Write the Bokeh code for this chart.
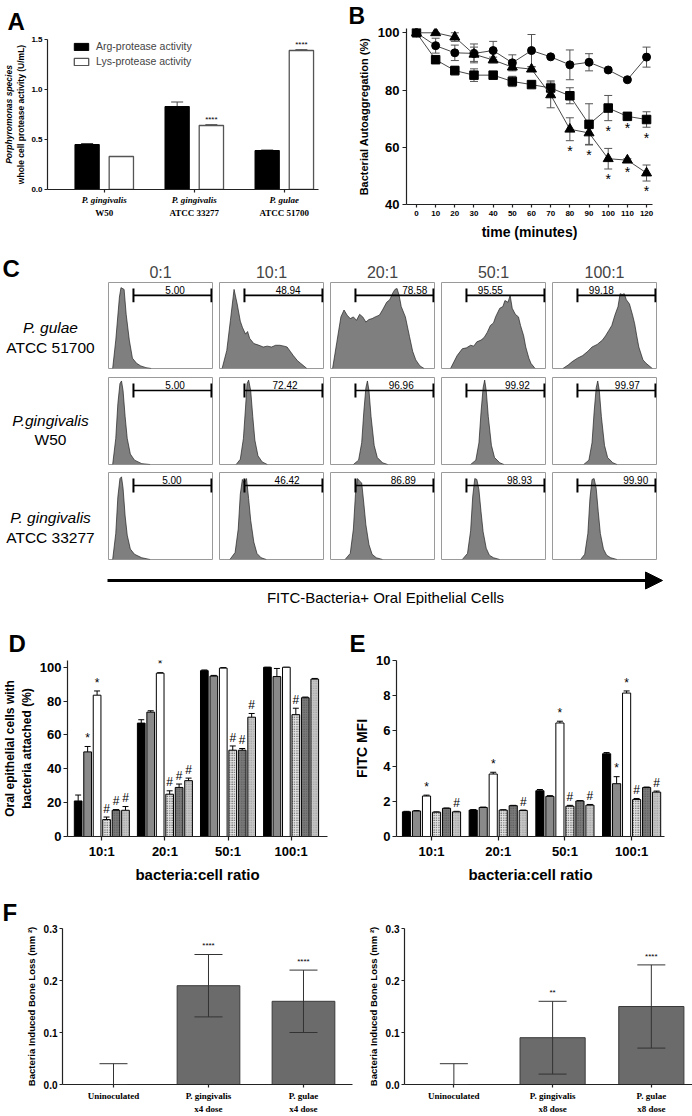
from bokeh.plotting import figure
from bokeh.layouts import row, column
from bokeh.models import (Range1d, Whisker, TeeHead, ColumnDataSource,
                          Legend, LegendItem, LinearAxis, FixedTicker, Arrow,
                          NormalHead, NumeralTickFormatter)
from bokeh.core.properties import value
from bokeh.embed import file_html
from bokeh.resources import INLINE

SANS = "Liberation Sans"
SERIF = "Liberation Serif"
INK = "#222222"

# ---------------- Panel A data ----------------
a_species = ["P. gingivalis", "P. gingivalis", "P. gulae"]
a_strain = ["W50", "ATCC 33277", "ATCC 51700"]
a_series = ["Arg-protease activity", "Lys-protease activity"]
a_arg = [0.45, 0.83, 0.39]
a_arg_err = [0.01, 0.045, 0.005]
a_lys = [0.33, 0.64, 1.39]
a_lys_err = [0.0, 0.008, 0.008]
a_lys_sig = ["", "****", "****"]
a_yticks = [0.0, 0.5, 1.0, 1.5]

# ---------------- Panel B data ----------------
b_time = [0, 10, 20, 30, 40, 50, 60, 70, 80, 90, 100, 110, 120]
b_circle = [100, 95.5, 93.0, 92.8, 93.8, 89.5, 93.8, 91.6, 88.8, 89.7, 87.0, 83.6, 91.5]
b_circle_err = [0, 2.6, 2.7, 3.3, 3.2, 2.8, 5.6, 0.4, 5.2, 3.0, 0.4, 0.4, 3.5]
b_circle_sig = [""] * 13
b_triangle = [100, 100, 98.5, 92.5, 90.5, 88.0, 87.3, 78.3, 66.3, 65.0, 56.0, 55.5, 51.0]
b_triangle_err = [0, 0, 1.5, 2.5, 1.0, 0.8, 0.8, 4.5, 4.0, 4.0, 3.6, 0.5, 2.8]
b_triangle_sig = ["", "", "", "", "", "", "", "", "*", "*", "*", "*", "*"]
b_square = [100, 90.6, 86.8, 85.2, 85.2, 83.0, 81.9, 80.7, 78.0, 68.0, 73.7, 70.8, 69.7]
b_square_err = [0, 0.5, 1.5, 2.2, 1.2, 1.8, 0.5, 2.5, 2.8, 7.2, 4.4, 0.5, 2.7]
b_square_sig = ["", "", "", "", "", "", "", "", "", "", "*", "*", "*"]
b_yticks = [40, 60, 80, 100]

# ---------------- Panel C data ----------------
c_ratios = ["0:1", "10:1", "20:1", "50:1", "100:1"]
c_row_species = ["P. gulae", "P.gingivalis", "P. gingivalis"]
c_row_strain = ["ATCC 51700", "W50", "ATCC 33277"]
c_gulae_pct = ["5.00", "48.94", "78.58", "95.55", "99.18"]
c_w50_pct = ["5.00", "72.42", "96.96", "99.92", "99.97"]
c_33277_pct = ["5.00", "46.42", "86.89", "98.93", "99.90"]
c_gulae_lblx = [0.64, 0.66, 0.81, 0.47, 0.47]
c_w50_lblx = [0.64, 0.63, 0.68, 0.73, 0.72]
c_33277_lblx = [0.61, 0.65, 0.70, 0.75, 0.80]

c_gulae_x = [
    [0.04, 0.07, 0.105, 0.12, 0.15, 0.17, 0.2, 0.23, 0.27, 0.31, 0.36, 0.41],
    [0.025, 0.07, 0.105, 0.14, 0.17, 0.2, 0.22, 0.25, 0.27, 0.29, 0.33, 0.38, 0.42,
     0.46, 0.5, 0.54, 0.58, 0.62, 0.65, 0.68, 0.71, 0.75, 0.78, 0.84],
    [0.02, 0.06, 0.1, 0.13, 0.16, 0.19, 0.22, 0.25, 0.28, 0.31, 0.34, 0.37, 0.4, 0.43,
     0.47, 0.5, 0.54, 0.57, 0.6, 0.62, 0.64, 0.66, 0.68, 0.72, 0.76, 0.79, 0.82, 0.86, 0.9],
    [0.087, 0.15, 0.2, 0.24, 0.28, 0.31, 0.34, 0.38, 0.41, 0.44, 0.47, 0.5, 0.52, 0.56,
     0.59, 0.61, 0.64, 0.66, 0.68, 0.71, 0.74, 0.76, 0.79, 0.81, 0.84, 0.86, 0.9],
    [0.1, 0.15, 0.19, 0.24, 0.29, 0.34, 0.38, 0.43, 0.48, 0.51, 0.54, 0.57, 0.6, 0.63,
     0.65, 0.67, 0.69, 0.71, 0.74, 0.77, 0.79, 0.81, 0.83, 0.87, 0.9, 0.96],
]
c_gulae_y = [
    [0, 0.33, 0.83, 0.94, 0.92, 0.63, 0.33, 0.12, 0.06, 0.03, 0.01, 0],
    [0, 0.21, 0.56, 0.92, 0.75, 0.55, 0.48, 0.4, 0.43, 0.35, 0.29, 0.27, 0.25,
     0.26, 0.25, 0.27, 0.27, 0.26, 0.25, 0.2, 0.15, 0.09, 0.06, 0],
    [0, 0.3, 0.6, 0.68, 0.62, 0.58, 0.6, 0.56, 0.63, 0.6, 0.54, 0.57, 0.58, 0.6,
     0.62, 0.68, 0.77, 0.8, 0.88, 0.92, 0.93, 0.85, 0.72, 0.6, 0.37, 0.2, 0.1, 0.03, 0],
    [0, 0.15, 0.23, 0.24, 0.27, 0.26, 0.31, 0.33, 0.36, 0.42, 0.5, 0.53, 0.6, 0.7,
     0.72, 0.79, 0.77, 0.85, 0.7, 0.63, 0.6, 0.5, 0.38, 0.25, 0.12, 0.06, 0],
    [0, 0.04, 0.08, 0.12, 0.15, 0.2, 0.25, 0.28, 0.33, 0.38, 0.44, 0.5, 0.62, 0.72,
     0.87, 0.86, 0.87, 0.8, 0.75, 0.62, 0.52, 0.38, 0.25, 0.1, 0.06, 0],
]
c_w50_x = [
    [0.04, 0.07, 0.09, 0.11, 0.125, 0.14, 0.16, 0.18, 0.21, 0.25, 0.32, 0.4],
    [0.16, 0.2, 0.23, 0.25, 0.265, 0.28, 0.3, 0.32, 0.34, 0.37, 0.41, 0.46],
    [0.22, 0.27, 0.3, 0.32, 0.34, 0.355, 0.37, 0.39, 0.42, 0.45, 0.5, 0.55],
    [0.28, 0.33, 0.36, 0.38, 0.4, 0.415, 0.43, 0.45, 0.48, 0.51, 0.56, 0.6],
    [0.3, 0.35, 0.38, 0.4, 0.42, 0.435, 0.45, 0.47, 0.5, 0.53, 0.58, 0.62],
]
c_w50_y = [
    [0, 0.3, 0.7, 0.93, 0.96, 0.85, 0.55, 0.3, 0.12, 0.05, 0.01, 0],
    [0, 0.06, 0.3, 0.65, 0.93, 0.97, 0.85, 0.55, 0.28, 0.1, 0.03, 0],
    [0, 0.05, 0.25, 0.6, 0.88, 0.96, 0.85, 0.55, 0.22, 0.08, 0.02, 0],
    [0, 0.05, 0.25, 0.6, 0.88, 0.97, 0.85, 0.55, 0.22, 0.08, 0.02, 0],
    [0, 0.05, 0.25, 0.6, 0.88, 0.96, 0.85, 0.55, 0.22, 0.08, 0.02, 0],
]
c_33277_x = [
    [0.04, 0.07, 0.09, 0.11, 0.125, 0.14, 0.16, 0.18, 0.21, 0.25, 0.32, 0.4],
    [0.1, 0.15, 0.18, 0.2, 0.22, 0.24, 0.26, 0.28, 0.3, 0.33, 0.36, 0.4, 0.45],
    [0.14, 0.19, 0.22, 0.24, 0.26, 0.28, 0.3, 0.32, 0.34, 0.37, 0.4, 0.44, 0.5],
    [0.2, 0.25, 0.28, 0.3, 0.32, 0.34, 0.36, 0.38, 0.4, 0.43, 0.46, 0.5, 0.56],
    [0.27, 0.31, 0.34, 0.36, 0.38, 0.4, 0.42, 0.44, 0.46, 0.49, 0.52, 0.56, 0.62],
]
c_33277_y = [
    [0, 0.3, 0.72, 0.93, 0.95, 0.82, 0.5, 0.28, 0.12, 0.06, 0.02, 0],
    [0, 0.08, 0.35, 0.75, 0.92, 0.88, 0.93, 0.7, 0.45, 0.2, 0.07, 0.02, 0],
    [0, 0.07, 0.35, 0.75, 0.93, 0.9, 0.88, 0.65, 0.4, 0.17, 0.06, 0.02, 0],
    [0, 0.07, 0.33, 0.72, 0.93, 0.92, 0.8, 0.55, 0.32, 0.13, 0.05, 0.02, 0],
    [0, 0.06, 0.3, 0.7, 0.92, 0.93, 0.82, 0.55, 0.3, 0.12, 0.05, 0.02, 0],
]
c_axis_title = "FITC-Bacteria+ Oral Epithelial Cells"

# ---------------- Panels D / E data ----------------
de_ratios = ["10:1", "20:1", "50:1", "100:1"]
d_s1 = [21, 67, 98, 100];       d_s1_err = [3.5, 2.0, 0.4, 0.0]
d_s2 = [50, 73.5, 94.8, 94.5];  d_s2_err = [3.2, 0.8, 0.4, 4.8]
d_s3 = [83.5, 96.5, 99.5, 100]; d_s3_err = [2.5, 0.3, 0.3, 0.0]
d_s4 = [10, 25, 51, 72];        d_s4_err = [1.5, 2.0, 2.5, 3.8]
d_s5 = [15.5, 29, 51, 82];      d_s5_err = [0.4, 2.0, 1.0, 0.4]
d_s6 = [15.5, 33, 70.5, 93];    d_s6_err = [2.2, 1.5, 2.2, 0.4]
d_s1_sig = ["", "", "", ""]
d_s2_sig = ["*", "", "", ""]
d_s3_sig = ["*", "*", "", ""]
d_s4_sig = ["#", "#", "#", "#"]
d_s5_sig = ["#", "#", "#", ""]
d_s6_sig = ["#", "#", "#", ""]
d_yticks = [0, 20, 40, 60, 80, 100]

e_s1 = [1.4, 1.5, 2.6, 4.7];      e_s1_err = [0.03, 0.03, 0.07, 0.07]
e_s2 = [1.45, 1.65, 2.28, 3.0];   e_s2_err = [0.02, 0.02, 0.04, 0.4]
e_s3 = [2.3, 3.55, 6.45, 8.15];   e_s3_err = [0.05, 0.1, 0.1, 0.12]
e_s4 = [1.38, 1.5, 1.72, 2.1];    e_s4_err = [0.02, 0.02, 0.05, 0.06]
e_s5 = [1.6, 1.75, 2.02, 2.78];   e_s5_err = [0.02, 0.02, 0.02, 0.03]
e_s6 = [1.4, 1.48, 1.78, 2.52];   e_s6_err = [0.03, 0.02, 0.04, 0.06]
e_s1_sig = ["", "", "", ""]
e_s2_sig = ["", "", "", "*"]
e_s3_sig = ["*", "*", "*", "*"]
e_s4_sig = ["", "", "#", "#"]
e_s5_sig = ["", "", "", ""]
e_s6_sig = ["#", "#", "#", "#"]
e_yticks = [0, 2, 4, 6, 8, 10]

# ---------------- Panel F data ----------------
f_groups = ["Uninoculated", "P. gingivalis", "P. gulae"]
f4_dose = ["", "x4 dose", "x4 dose"]
f4_mean = [0.0, 0.19, 0.16]
f4_lower = [0.0, 0.13, 0.10]
f4_upper = [0.04, 0.25, 0.22]
f4_sig = ["", "****", "****"]
f8_dose = ["", "x8 dose", "x8 dose"]
f8_mean = [0.0, 0.09, 0.15]
f8_lower = [0.0, 0.02, 0.07]
f8_upper = [0.04, 0.16, 0.23]
f8_sig = ["", "**", "****"]
f_yticks = [0.0, 0.1, 0.2, 0.3]

# ---------------- styles ----------------
BAR_FILL = ["#000000", "#8a8a8a", "#ffffff", "#e4e4e4", "#7a7a7a", "#c6c6c6"]
BAR_HATCH = [None, None, None, "dot", "dot", "dot"]
BAR_HATCH_COLOR = ["black", "black", "black", "#111111", "#4a4a4a", "#8c8c8c"]


def new_fig(w, h, xr, yr, **kw):
    p = figure(width=w, height=h, x_range=xr, y_range=yr, frame_align=False,
               output_backend="svg", toolbar_location=None, **kw)
    p.xgrid.visible = False
    p.ygrid.visible = False
    p.outline_line_color = None
    return p


def blank_fig(w, h, **kw):
    p = figure(width=w, height=h, x_range=Range1d(0, w), y_range=Range1d(0, h),
               x_axis_type=None, y_axis_type=None, min_border=0, frame_align=False,
               output_backend="svg", toolbar_location=None, **kw)
    p.outline_line_color = None
    return p


def style_axis(ax, size="11px", font=SANS, style="bold", tick_out=4):
    ax.major_label_text_font = font
    ax.major_label_text_font_size = size
    ax.major_label_text_font_style = style
    ax.major_label_text_color = "black"
    ax.axis_label_text_font = SANS
    ax.axis_label_text_font_style = "bold"
    ax.axis_label_text_color = "black"
    ax.axis_line_color = INK
    ax.axis_line_width = 1.2
    ax.major_tick_line_color = INK
    ax.major_tick_line_width = 1.2
    ax.minor_tick_line_color = None
    ax.major_tick_in = 0
    ax.major_tick_out = tick_out
    ax.major_label_standoff = 3
    ax.axis_label_standoff = 4


def letter(p, txt, offset, standoff, size="24px"):
    p.title.text = txt
    p.title.align = "left"
    p.title.offset = offset
    p.title.standoff = standoff
    p.title.text_font = SANS
    p.title.text_font_size = size
    p.title.text_font_style = "bold"
    p.title.text_color = "black"


# ================= Panel A =================
xa = list(range(len(a_arg)))
pA = new_fig(346, 254, Range1d(-0.63, 2.38), Range1d(0, 1.5),
             min_border_left=43, min_border_right=28, min_border_top=37, min_border_bottom=65)
xa_arg = [x - 0.19 for x in xa]
xa_lys = [x + 0.19 for x in xa]
r_arg = pA.vbar(x=xa_arg, top=a_arg, width=0.27, fill_color="black", line_color="black")
r_lys = pA.vbar(x=xa_lys, top=a_lys, width=0.27, fill_color="white", line_color="#555555", line_width=1.3)
for xs, vs, es in ((xa_arg, a_arg, a_arg_err), (xa_lys, a_lys, a_lys_err)):
    src = ColumnDataSource(dict(x=xs, lo=vs, hi=[v + e for v, e in zip(vs, es)]))
    pA.add_layout(Whisker(source=src, base="x", lower="lo", upper="hi", line_color="#444444",
                          line_width=1, lower_head=None,
                          upper_head=TeeHead(size=12, line_color="#444444", line_width=1)))
pA.text(x=xa_lys, y=[v + e + 0.012 for v, e in zip(a_lys, a_lys_err)], text=a_lys_sig,
        text_font=value(SANS), text_font_size="8px", text_align="center", text_baseline="bottom")
axA = pA.xaxis[0]
axA.ticker = FixedTicker(ticks=xa)
axA.major_label_overrides = {i: s for i, s in zip(xa, a_species)}
style_axis(axA, "9px", SERIF, "bold italic", 3)
axA.major_label_standoff = 2
axA2 = LinearAxis(ticker=FixedTicker(ticks=xa), major_label_overrides={i: s for i, s in zip(xa, a_strain)})
style_axis(axA2, "9px", SERIF, "bold", 0)
axA2.axis_line_color = None
axA2.major_tick_line_color = None
axA2.major_label_standoff = 0
pA.add_layout(axA2, "below")
ayA = pA.yaxis[0]
ayA.ticker = FixedTicker(ticks=a_yticks)
ayA.formatter = NumeralTickFormatter(format="0.0")
style_axis(ayA, "8px", SANS, "bold", 3)
ayA.major_label_standoff = 2
ayA.axis_label = "whole cell protease activity (U/mL)"
ayA.axis_label_text_font_size = "8.5px"
ayA.axis_label_standoff = 2
ayA2 = LinearAxis(ticker=FixedTicker(ticks=[]), axis_label="Porphyromonas species")
style_axis(ayA2, "8px", SANS, "bold", 0)
ayA2.axis_line_color = None
ayA2.major_label_standoff = 0
ayA2.axis_label_text_font_size = "8.5px"
ayA2.axis_label_text_font_style = "bold italic"
ayA2.axis_label_standoff = 0
pA.add_layout(ayA2, "left")
legA = Legend(items=[LegendItem(label=a_series[0], renderers=[r_arg]),
                     LegendItem(label=a_series[1], renderers=[r_lys])],
              location=(25, 122), border_line_color=None, background_fill_alpha=0,
              glyph_width=18, glyph_height=9, label_text_font=SANS,
              label_text_font_size="10.5px", label_standoff=6, spacing=3, padding=0,
              margin=0, label_height=10)
pA.add_layout(legA)
letter(pA, "A", -40, 10)

# ================= Panel B =================
pB = new_fig(346, 254, Range1d(-5.2, 123.1), Range1d(40, 101.5),
             min_border_left=60, min_border_right=40, min_border_top=23, min_border_bottom=50)
for vals, errs, sig, mk, sz in ((b_circle, b_circle_err, b_circle_sig, "circle", 8),
                                (b_square, b_square_err, b_square_sig, "square", 8.5),
                                (b_triangle, b_triangle_err, b_triangle_sig, "triangle", 10)):
    pB.line(b_time, vals, line_color="#333333", line_width=0.9)
    src = ColumnDataSource(dict(x=b_time, lo=[v - e for v, e in zip(vals, errs)],
                                hi=[v + e for v, e in zip(vals, errs)]))
    pB.add_layout(Whisker(source=src, base="x", lower="lo", upper="hi", line_color="#555555",
                          line_width=1,
                          lower_head=TeeHead(size=8, line_color="#555555", line_width=1),
                          upper_head=TeeHead(size=8, line_color="#555555", line_width=1)))
    pB.scatter(b_time, vals, marker=mk, size=sz, fill_color="black", line_color="black")
    pB.text(x=b_time, y=[v - e - 0.8 for v, e in zip(vals, errs)], text=sig,
            text_font=value(SANS), text_font_size="14px", text_align="center", text_baseline="top")
axB = pB.xaxis[0]
axB.ticker = FixedTicker(ticks=b_time)
style_axis(axB, "8px", SANS, "bold", 3)
axB.axis_label = "time (minutes)"
axB.axis_label_text_font_size = "14px"
axB.axis_label_standoff = 5
ayB = pB.yaxis[0]
ayB.ticker = FixedTicker(ticks=b_yticks)
style_axis(ayB, "13px", SANS, "bold", 4)
ayB.axis_label = "Bacterial Autoaggregation (%)"
ayB.axis_label_text_font_size = "11px"
ayB.axis_label_standoff = 5
letter(pB, "B", -58, 0, "23px")


# ================= Panel C =================
def hist_fig(xs, ys, pct, lx, header=None, h_frame=87, bottom=6):
    top = 28 if header else 2
    p = new_fig(111, h_frame + top + bottom, Range1d(0, 1), Range1d(0, 1),
                x_axis_type=None, y_axis_type=None,
                min_border_left=4, min_border_right=3, min_border_top=top, min_border_bottom=bottom)
    p.outline_line_color = "#9a9a9a"
    p.varea(x=xs, y1=0, y2=ys, fill_color="#7f7f7f")
    p.line(xs, ys, line_color="#222222", line_width=0.7)
    p.segment(x0=[0.24], y0=[0.85], x1=[0.99], y1=[0.85], line_color="black", line_width=1.6)
    p.segment(x0=[0.24, 0.99], y0=[0.77, 0.77], x1=[0.24, 0.99], y1=[0.93, 0.93],
              line_color="black", line_width=2)
    p.text(x=[lx], y=[0.865], text=[pct], text_font=value(SANS), text_font_size="10px",
           text_align="center", text_baseline="bottom")
    if header:
        p.title.text = header
        p.title.align = "center"
        p.title.text_font = SANS
        p.title.text_font_size = "16px"
        p.title.text_font_style = "normal"
        p.title.standoff = 4
    return p


def label_fig(h, texts, ys, styles, letter_txt=None):
    p = blank_fig(104, h)
    p.text(x=[50] * len(texts), y=ys, text=texts, text_font=value(SANS), text_font_size="15.5px",
           text_font_style=styles, text_align="center", text_baseline="middle")
    if letter_txt:
        p.text(x=[2], y=[h], text=[letter_txt], text_font=value(SANS), text_font_size="24px",
               text_font_style="bold", text_align="left", text_baseline="top")
    return p


lab1 = label_fig(121, [c_row_species[0], c_row_strain[0]], [48, 28], ["italic", "normal"], "C")
lab2 = label_fig(95, [c_row_species[1], c_row_strain[1]], [50, 31], ["italic", "normal"])
lab3 = label_fig(95, [c_row_species[2], c_row_strain[2]], [48, 28], ["italic", "normal"])
h1 = [hist_fig(c_gulae_x[k], c_gulae_y[k], c_gulae_pct[k], c_gulae_lblx[k], c_ratios[k], 86, 7) for k in range(5)]
h2 = [hist_fig(c_w50_x[k], c_w50_y[k], c_w50_pct[k], c_w50_lblx[k]) for k in range(5)]
h3 = [hist_fig(c_33277_x[k], c_33277_y[k], c_33277_pct[k], c_33277_lblx[k]) for k in range(5)]

pArr = blank_fig(692, 40)
pArr.add_layout(Arrow(end=NormalHead(size=17, fill_color="black", line_color="black"),
                      x_start=107, y_start=25, x_end=662, y_end=25,
                      line_color="black", line_width=3))
pArr.text(x=[385], y=[8], text=[c_axis_title], text_font=value(SANS), text_font_size="15px",
          text_align="center", text_baseline="middle")


# ================= Panels D / E =================
def bar_panel(p, series, errs, sigs, gap, font_size):
    n = len(series)
    for j in range(n):
        xs = [g + (j - (n - 1) / 2) * 0.15 for g in range(len(series[j]))]
        p.vbar(x=xs, top=series[j], width=0.122, fill_color=BAR_FILL[j], line_color="black",
               line_width=1, hatch_pattern=BAR_HATCH[j], hatch_color=BAR_HATCH_COLOR[j],
               hatch_scale=2.4, hatch_weight=1.5)
        src = ColumnDataSource(dict(x=xs, lo=series[j], hi=[v + e for v, e in zip(series[j], errs[j])]))
        p.add_layout(Whisker(source=src, base="x", lower="lo", upper="hi", line_color="black",
                             line_width=1, lower_head=None,
                             upper_head=TeeHead(size=6, line_color="black", line_width=1)))
        p.text(x=xs, y=[v + e + gap for v, e in zip(series[j], errs[j])], text=sigs[j],
               text_font=value(SANS), text_font_size=font_size, text_align="center",
               text_baseline="bottom")


def style_de(p, yticks, ylabel, ylab_size):
    ax = p.xaxis[0]
    ax.ticker = FixedTicker(ticks=list(range(len(de_ratios))))
    ax.major_label_overrides = {i: s for i, s in enumerate(de_ratios)}
    style_axis(ax, "13px", SANS, "bold", 4)
    ax.axis_label = "bacteria:cell ratio"
    ax.axis_label_text_font_size = "15px"
    ax.axis_label_standoff = 4
    ay = p.yaxis[0]
    ay.ticker = FixedTicker(ticks=yticks)
    style_axis(ay, "13px", SANS, "bold", 4)
    ay.major_label_standoff = 2
    ay.axis_label = ylabel
    ay.axis_label_text_font_size = ylab_size
    ay.axis_label_standoff = 3


pD = new_fig(346, 280, Range1d(-0.544, 3.577), Range1d(0, 104),
             min_border_left=62, min_border_right=19, min_border_top=55, min_border_bottom=44)
bar_panel(pD, [d_s1, d_s2, d_s3, d_s4, d_s5, d_s6],
          [d_s1_err, d_s2_err, d_s3_err, d_s4_err, d_s5_err, d_s6_err],
          [d_s1_sig, d_s2_sig, d_s3_sig, d_s4_sig, d_s5_sig, d_s6_sig], 0.8, "12px")
style_de(pD, d_yticks, "Oral epithelial cells with\nbacteria attached (%)", "12px")
letter(pD, "D", -59, 7)

pE = new_fig(346, 280, Range1d(-0.525, 3.493), Range1d(0, 10),
             min_border_left=50, min_border_right=28, min_border_top=55, min_border_bottom=45)
bar_panel(pE, [e_s1, e_s2, e_s3, e_s4, e_s5, e_s6],
          [e_s1_err, e_s2_err, e_s3_err, e_s4_err, e_s5_err, e_s6_err],
          [e_s1_sig, e_s2_sig, e_s3_sig, e_s4_sig, e_s5_sig, e_s6_sig], 0.08, "12px")
style_de(pE, e_yticks, "FITC MFI", "14px")
letter(pE, "E", -47, 7)


# ================= Panel F =================
def bone_panel(p, mean, lower, upper, dose, sig):
    xs = list(range(len(mean)))
    p.vbar(x=xs, top=mean, width=0.66, fill_color="#6b6b6b", line_color="#3a3a3a", line_width=1)
    src = ColumnDataSource(dict(x=xs, lo=lower, hi=upper))
    p.add_layout(Whisker(source=src, base="x", lower="lo", upper="hi", line_color="#333333",
                         line_width=1, level="overlay",
                         lower_head=TeeHead(size=28, line_color="#333333", line_width=1),
                         upper_head=TeeHead(size=28, line_color="#333333", line_width=1)))
    p.text(x=xs, y=[u + 0.008 for u in upper], text=sig, text_font=value(SANS),
           text_font_size="8px", text_align="center", text_baseline="bottom")
    ax = p.xaxis[0]
    ax.ticker = FixedTicker(ticks=xs)
    ax.major_label_overrides = {i: s for i, s in zip(xs, f_groups)}
    style_axis(ax, "9px", SERIF, "bold", 3)
    ax.major_label_standoff = 3
    ax2 = LinearAxis(ticker=FixedTicker(ticks=xs), major_label_overrides={i: s for i, s in zip(xs, dose)})
    style_axis(ax2, "9px", SERIF, "bold", 0)
    ax2.axis_line_color = None
    ax2.major_tick_line_color = None
    ax2.major_label_standoff = 0
    p.add_layout(ax2, "below")
    ay = p.yaxis[0]
    ay.ticker = FixedTicker(ticks=f_yticks)
    ay.formatter = NumeralTickFormatter(format="0.0")
    style_axis(ay, "10px", SANS, "bold", 3)
    ay.major_label_standoff = 2
    ay.axis_label = "Bacteria Induced Bone Loss (mm \u00b2)"
    ay.axis_label_text_font_size = "9.5px"
    ay.axis_label_standoff = 4


pF1 = new_fig(360, 231, Range1d(-0.537, 2.516), Range1d(0, 0.3),
              min_border_left=62, min_border_right=8, min_border_top=43, min_border_bottom=26)
bone_panel(pF1, f4_mean, f4_lower, f4_upper, f4_dose, f4_sig)
letter(pF1, "F", -60, 6)
pF2 = new_fig(332, 231, Range1d(-0.5, 2.417), Range1d(0, 0.3),
              min_border_left=44, min_border_right=0, min_border_top=43, min_border_bottom=26)
bone_panel(pF2, f8_mean, f8_lower, f8_upper, f8_dose, f8_sig)

layout = column(row(pA, pB), row(lab1, *h1), row(lab2, *h2), row(lab3, *h3), pArr,
                row(pD, pE), row(pF1, pF2))
open("out.html", "w").write(file_html(layout, INLINE, title="Figure"))
